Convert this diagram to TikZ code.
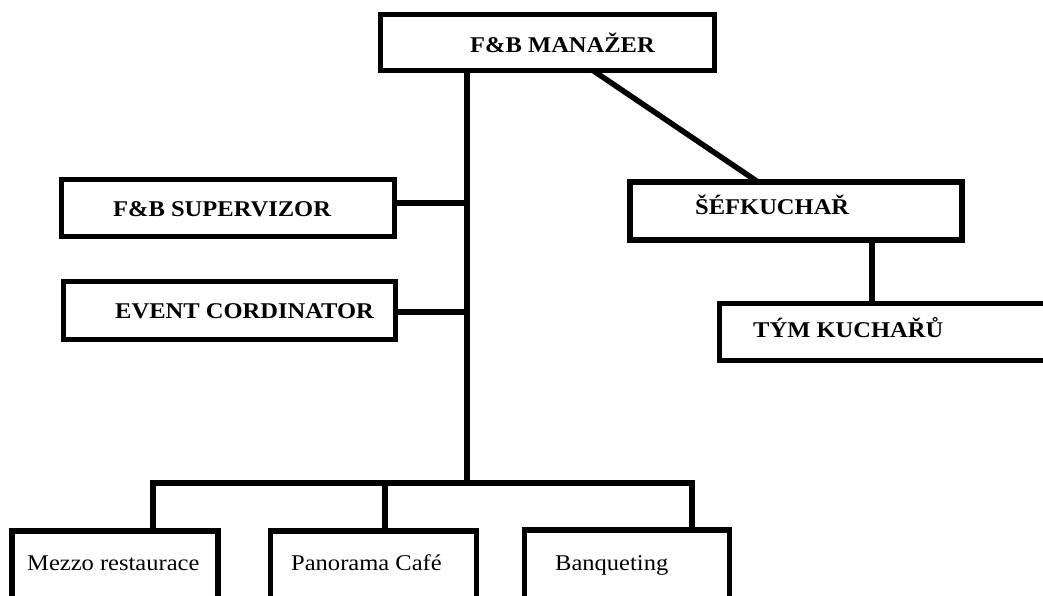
\documentclass[tikz,border=0pt]{standalone}
\usepackage{fontspec}
\setmainfont[FakeStretch=1.09]{Liberation Serif}
\begin{document}
\begin{tikzpicture}[x=1pt,y=-1pt,
  box/.style={draw, line width=5.5pt, inner sep=0pt, outer sep=0pt, anchor=north west},
  conn/.style={line width=5.5pt},
  lbl/.style={anchor=base west, inner sep=0pt, font=\fontsize{22.5}{27}\selectfont},
  hd/.style={anchor=base west, inner sep=0pt, font=\fontsize{22.5}{27}\selectfont\bfseries}]
\useasboundingbox (0,0) rectangle (1043,596);
\clip (0,0) rectangle (1043,596);
\fill[white] (0,0) rectangle (1043,596);
% boxes
\node[box, minimum width=334pt, minimum height=56pt] (mgr) at (380.5,14.5) {};
\node[box, minimum width=333pt, minimum height=57pt] (sup) at (61.5,179.5) {};
\node[box, minimum width=332pt, minimum height=58pt] (evt) at (63.5,281.5) {};
\node[box, minimum width=332pt, minimum height=58pt] (chef) at (630,182) {};
\node[box, minimum width=360pt, minimum height=57pt] (team) at (719.5,303.5) {};
\node[box, minimum width=206pt, minimum height=100pt] (mezzo) at (12,531) {};
\node[box, minimum width=206pt, minimum height=100pt] (pano) at (270.5,531) {};
\node[box, minimum width=205pt, minimum height=100pt] (banq) at (524.5,530) {};
% labels
\node[hd] (tmgr) at (470,53) {F\&B MANAŽER};
\node[hd] (tsup) at (113,216) {F\&B SUPERVIZOR};
\node[hd] (tevt) at (115,318) {EVENT CORDINATOR};
\node[hd] (tchef) at (695,214) {ŠÉFKUCHAŘ};
\node[hd] (tteam) at (753,337) {TÝM KUCHAŘŮ};
\node[lbl] (tmezzo) at (27,570) {Mezzo restaurace};
\node[lbl] (tpano) at (291,570) {Panorama Café};
\node[lbl] (tbanq) at (555,570) {Banqueting};
% connectors
\coordinate (tj) at (467,483);
\coordinate (bl) at (153,483);
\coordinate (bm) at (385,483);
\coordinate (br) at (692,483);
\coordinate (sj) at (0,203);
\coordinate (ej) at (0,312);
\draw[conn] (mgr.south -| tj) -- (tj);
\draw[conn] (sup.east |- sj) -- (tj |- sj);
\draw[conn] (evt.east |- ej) -- (tj |- ej);
\draw[conn] (bl |- mezzo.north) -- (bl) -- (br) -- (br |- banq.north);
\draw[conn] (bm) -- (bm |- pano.north);
\draw[conn] (mgr.south -| 593,0) -- (chef.north -| 758,0);
\draw[conn] (chef.south -| 872,0) -- (team.north -| 872,0);
\end{tikzpicture}
\end{document}
